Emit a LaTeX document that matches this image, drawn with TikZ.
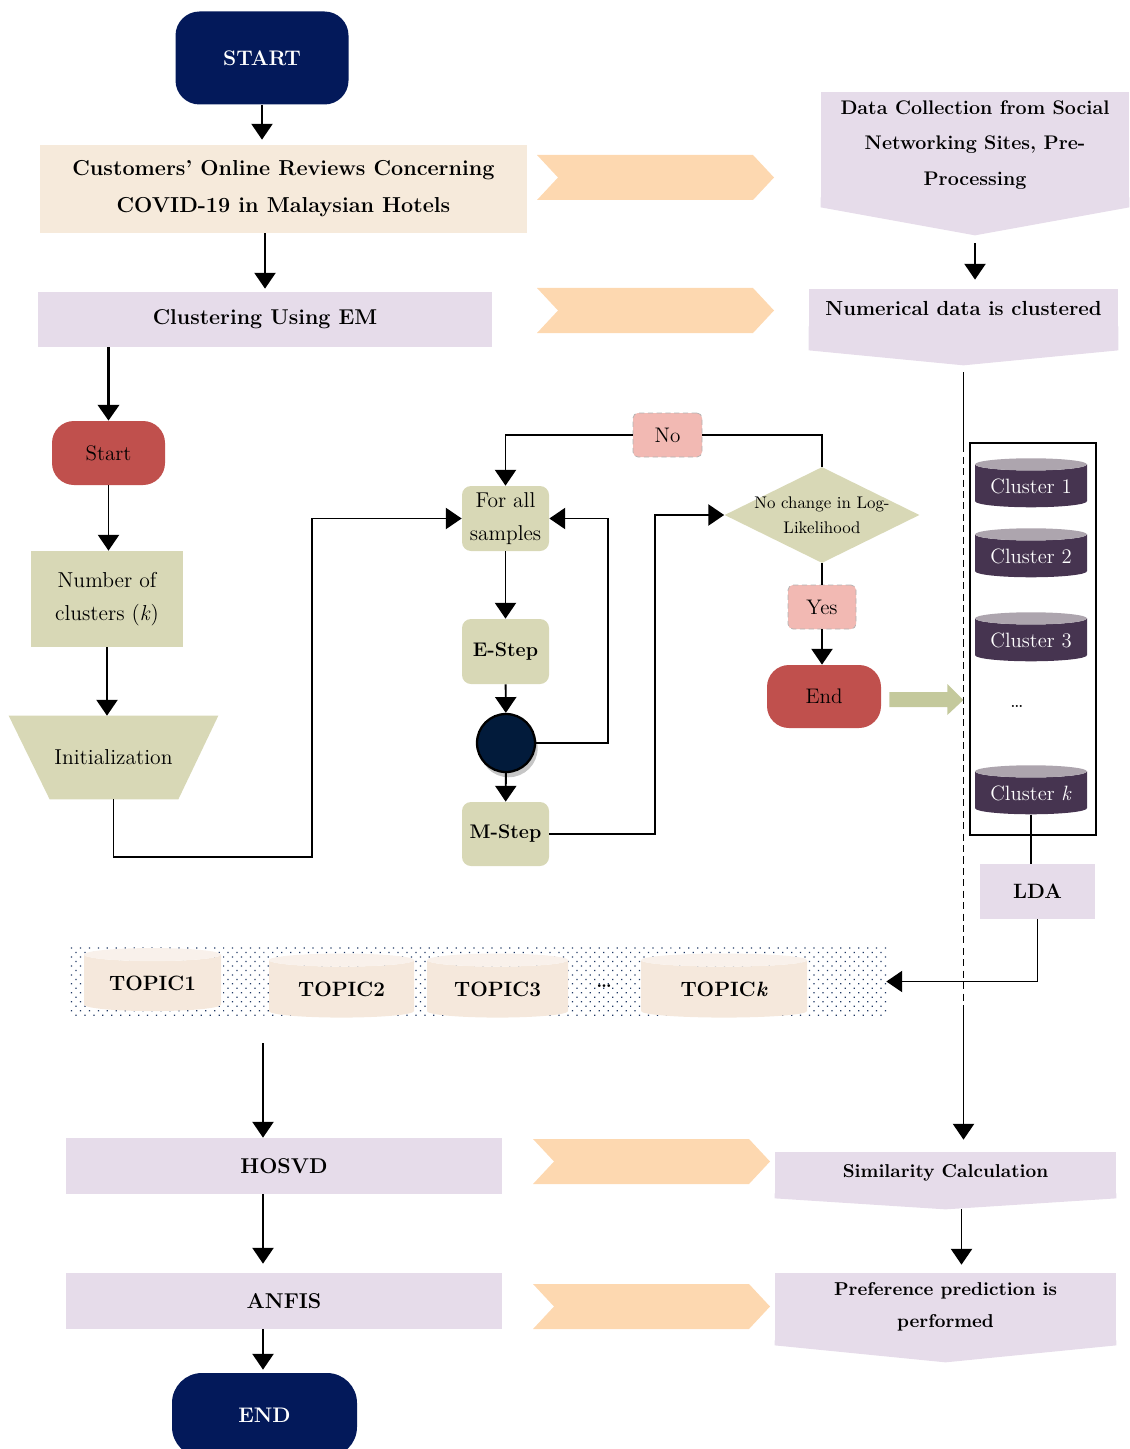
\documentclass[tikz,border=0pt]{standalone}
\usepackage{tikz}
\usetikzlibrary{shapes.geometric, arrows.meta, positioning, patterns, patterns.meta, shadows, backgrounds}

\definecolor{navy}{RGB}{3,25,90}
\definecolor{sand}{RGB}{246,234,219}
\definecolor{peach}{RGB}{253,216,176}
\definecolor{lilac}{RGB}{230,220,234}
\definecolor{brick}{RGB}{192,80,77}
\definecolor{olive}{RGB}{216,216,182}
\definecolor{blush}{RGB}{242,185,179}
\definecolor{leaf}{RGB}{196,201,156}
\definecolor{plum}{RGB}{70,52,80}
\definecolor{plumtop}{RGB}{173,165,174}
\definecolor{cream}{RGB}{245,232,220}
\definecolor{creamtop}{RGB}{249,241,235}
\definecolor{dotblue}{RGB}{31,56,100}
\definecolor{ink}{RGB}{2,27,59}

\newlength{\unitpx}
\setlength{\unitpx}{0.02cm}

\tikzset{
  conn/.style={line width=1.1pt, -{Triangle[width=12pt,length=9pt]}},
  link/.style={line width=1.1pt},
  boxed/.style={rectangle, inner sep=0pt, align=center},
  terminal/.style={boxed, rounded corners=28\unitpx, text=white, font=\fontsize{12}{19}\selectfont\bfseries},
  lilacbox/.style={boxed, fill=lilac, font=\fontsize{12.2}{20}\selectfont\bfseries},
  embox/.style={boxed, fill=olive, rounded corners=9\unitpx, font=\fontsize{12.2}{19}\selectfont},
  flag/.style={boxed, fill=blush, draw=gray!60, densely dashed, line width=0.4pt, rounded corners=5\unitpx, font=\fontsize{12}{19}\selectfont},
  drum/.style={cylinder, shape border rotate=90, aspect=0.15, inner sep=0pt, cylinder uses custom fill},
  clusterdrum/.style={drum, cylinder body fill=plum, cylinder end fill=plumtop, text=white, minimum width=112\unitpx, minimum height=49\unitpx, font=\fontsize{11.8}{14}\selectfont},
  topicdrum/.style={drum, cylinder body fill=cream, cylinder end fill=creamtop, minimum height=64\unitpx, font=\fontsize{11.8}{14}\selectfont\bfseries},
  chevron/.pic={\fill[peach] (0,0) -- (216,0) -- (237,22.5) -- (216,45) -- (0,45) -- (21,22.5) -- cycle;}
}

\begin{document}
\begin{tikzpicture}[x=0.02cm, y=-0.02cm]
    \useasboundingbox (0,0) rectangle (1129,1449);

    % main column
    \node[terminal, fill=navy, minimum width=173\unitpx, minimum height=93\unitpx, rounded corners=24\unitpx] (start) at (262,58) {START};
    \node[boxed, fill=sand, minimum width=487\unitpx, minimum height=88\unitpx, font=\fontsize{12.3}{21}\selectfont\bfseries] (reviews) at (283.5,189) {Customers’ Online Reviews Concerning\\COVID-19 in Malaysian Hotels};
    \node[lilacbox, minimum width=454\unitpx, minimum height=55\unitpx] (clustering) at (265,319.5) {Clustering Using EM};

    % right column
    \node[lilacbox, minimum width=308\unitpx, minimum height=106\unitpx, font=\fontsize{11.2}{20}\selectfont\bfseries] (datacol) at (975,145) {Data Collection from Social\\Networking Sites, Pre-\\Processing};
    \fill[lilac] ([yshift=1\unitpx]datacol.south west) -- ++(0,10) -- ([yshift=-37\unitpx]datacol.south) coordinate (datatip) -- ([yshift=-9\unitpx]datacol.south east) -- ([yshift=1\unitpx]datacol.south east) -- cycle;
    \node[lilacbox, minimum width=309\unitpx, minimum height=38\unitpx, font=\fontsize{11.6}{20}\selectfont\bfseries] (numdata) at (963.5,308) {Numerical data is clustered};
    \fill[lilac] ([yshift=1\unitpx]numdata.south west) -- ++(0,24) -- ([yshift=-38\unitpx]numdata.south) coordinate (numtip) -- ([yshift=-23\unitpx]numdata.south east) -- ([yshift=1\unitpx]numdata.south east) -- cycle;

    \pic at (537,155) {chevron};
    \pic at (537,288) {chevron};
    \pic at (533,1139) {chevron};
    \pic at (533,1284) {chevron};

    % EM loop
    \node[terminal, fill=brick, text=black, font=\fontsize{12}{19}\selectfont, minimum width=113\unitpx, minimum height=64\unitpx, rounded corners=22\unitpx] (emstart) at (108.5,453) {Start};
    \node[boxed, fill=olive, minimum width=152\unitpx, minimum height=96\unitpx, font=\fontsize{12.3}{19}\selectfont] (numk) at (107,599) {Number of\\clusters (\textit{k})};
    \node[boxed, minimum width=209\unitpx, minimum height=83\unitpx, font=\fontsize{12.3}{19}\selectfont] (init) at (113.5,757.5) {Initialization};
    \begin{scope}[on background layer]
        \fill[olive] (init.north west) -- (init.north east) -- ([xshift=-40\unitpx]init.south east) -- ([xshift=41\unitpx]init.south west) -- cycle;
    \end{scope}

    \node[embox, minimum width=87\unitpx, minimum height=65\unitpx] (forall) at (505.5,518.5) {For all\\samples};
    \node[embox, minimum width=87\unitpx, minimum height=65\unitpx, font=\fontsize{11.2}{19}\selectfont\bfseries] (estep) at (505.5,651.5) {E-Step};
    \node[circle, fill=ink, draw=black, line width=1.3pt, minimum size=58\unitpx, inner sep=0pt, drop shadow={opacity=0.45, shadow xshift=1.5pt, shadow yshift=-3pt}] (dot) at (506,743) {};
    \node[embox, minimum width=87\unitpx, minimum height=64\unitpx, font=\fontsize{11.2}{19}\selectfont\bfseries] (mstep) at (505.5,834) {M-Step};

    \node[diamond, fill=olive, minimum width=195\unitpx, minimum height=96\unitpx, inner sep=0pt, label={[align=center, font=\fontsize{9.6}{14}\selectfont]center:{No change in Log-\\Likelihood}}] (decide) at (822,515) {};
    \node[flag, minimum width=69\unitpx, minimum height=44\unitpx] (no) at (667.5,435) {No};
    \node[flag, minimum width=68\unitpx, minimum height=44\unitpx] (yes) at (822,607) {Yes};
    \node[terminal, fill=brick, text=black, font=\fontsize{12}{19}\selectfont, minimum width=114\unitpx, minimum height=63\unitpx, rounded corners=22\unitpx] (endem) at (824,696.5) {End};

    % clusters
    \node[draw, line width=0.8pt, minimum width=126\unitpx, minimum height=392\unitpx, inner sep=0pt] (clusters) at (1033,639) {};
    \node[clusterdrum] (c1) at (1031,486) {Cluster 1};
    \node[clusterdrum] (c2) at (1031,556) {Cluster 2};
    \node[clusterdrum] (c3) at (1031,640) {Cluster 3};
    \node[font=\fontsize{12}{14}\selectfont] (cdots) at (1017,706) {\dots};
    \node[clusterdrum] (ck) at (1031,793) {Cluster \textit{k}};
    \node[lilacbox, minimum width=115\unitpx, minimum height=55\unitpx, font=\fontsize{11.8}{14}\selectfont\bfseries] (lda) at (1037.5,891.5) {LDA};

    % topics
    \node[boxed, pattern={Dots[distance=3.6pt, angle=45, radius=0.5pt]}, pattern color=dotblue, minimum width=818\unitpx, minimum height=73\unitpx] (band) at (477,981.5) {};
    \node[topicdrum, minimum width=137\unitpx, minimum height=63\unitpx] (t1) at (152.5,983) {TOPIC1};
    \node[topicdrum, minimum width=145\unitpx] (t2) at (341.5,989) {TOPIC2};
    \node[topicdrum, minimum width=141\unitpx] (t3) at (497.5,989) {TOPIC3};
    \node[font=\fontsize{11}{14}\selectfont\bfseries] (tdots) at (604,986) {\dots};
    \node[topicdrum, minimum width=166\unitpx] (tk) at (724,989) {TOPIC\textit{k}};

    % bottom rows
    \node[lilacbox, minimum width=436\unitpx, minimum height=56\unitpx] (hosvd) at (284,1166) {HOSVD};
    \node[lilacbox, minimum width=436\unitpx, minimum height=56\unitpx] (anfis) at (284,1301) {ANFIS};
    \node[terminal, fill=navy, minimum width=185\unitpx, minimum height=84\unitpx, rounded corners=30\unitpx] (endnode) at (264.5,1415) {END};

    \node[lilacbox, minimum width=341\unitpx, minimum height=42\unitpx, font=\fontsize{10.6}{18}\selectfont\bfseries] (sim) at (945.5,1173) {Similarity Calculation};
    \fill[lilac] ([yshift=1\unitpx]sim.south west) -- ++(0,5) -- ([yshift=-15\unitpx]sim.south) coordinate (simtip) -- ([yshift=-4\unitpx]sim.south east) -- ([yshift=1\unitpx]sim.south east) -- cycle;
    \node[lilacbox, minimum width=341\unitpx, minimum height=68\unitpx, font=\fontsize{10.6}{18}\selectfont\bfseries] (pref) at (945.5,1307) {Preference prediction is\\performed};
    \fill[lilac] ([yshift=1\unitpx]pref.south west) -- ++(0,5) -- ([yshift=-21\unitpx]pref.south) coordinate (preftip) -- ([yshift=-4\unitpx]pref.south east) -- ([yshift=1\unitpx]pref.south east) -- cycle;

    % connectors
    \draw[conn, shorten >=5\unitpx] (start) -- (start |- reviews.north);
    \draw[conn, shorten >=3\unitpx] (reviews.south -| clustering.north) -- (clustering.north);
    \draw[conn, line width=2pt] (emstart.north |- clustering.south) -- (emstart.north);
    \draw[conn] (emstart.south) -- (emstart.south |- numk.north);
    \draw[conn] (numk.south) -- (numk.south |- init.north);
    \draw[conn] (init.south) |- (312,857) |- (forall.west);
    \draw[conn] (forall) -- (estep);
    \draw[conn] (estep) -- (dot);
    \draw[conn] (dot) -- (mstep);
    \draw[conn] (dot.east) -- ++(72,0) |- (forall.east);
    \draw[conn] (mstep.east) -- ++(106,0) |- (decide.west);
    \draw[link] (decide.north) |- (no.east);
    \draw[conn] (no.west) -| (forall.north);
    \draw[link] (decide.south) -- (yes.north);
    \draw[conn] (yes.south) -- (yes.south |- endem.north);
    \begin{scope}[shift={(endem.east)}]
        \fill[leaf] (8,-4.5) -- (66,-4.5) -- (66,-12.5) -- (82,3.5) -- (66,18.5) -- (66,10.5) -- (8,10.5) -- cycle;
    \end{scope}
    \draw[link] (ck.south) -- (ck.south |- lda.north);
    \draw[conn] (lda.south) |- (band.east);

    \draw[conn] ([yshift=-8\unitpx]datatip) -- ([yshift=9\unitpx]numdata.north -| datatip);
    \draw[link] ([yshift=-7\unitpx]numtip) -- ++(0,73) coordinate (dashtop);
    \draw[link, dash pattern=on 4pt off 2.5pt] (dashtop) -- ++(0,562) coordinate (dashend);
    \draw[conn] (dashend) -- ([yshift=12\unitpx]sim.north -| dashend);
    \draw[conn] ([xshift=16\unitpx]simtip) -- ([xshift=16\unitpx,yshift=8\unitpx]pref.north);

    \coordinate (lane) at (263,1043);
    \draw[conn] (lane) -- (lane |- hosvd.north);
    \draw[conn, shorten >=9\unitpx] (lane |- hosvd.south) -- (lane |- anfis.north);
    \draw[conn, shorten >=3\unitpx] (lane |- anfis.south) -- (lane |- endnode.north);
\end{tikzpicture}
\end{document}
